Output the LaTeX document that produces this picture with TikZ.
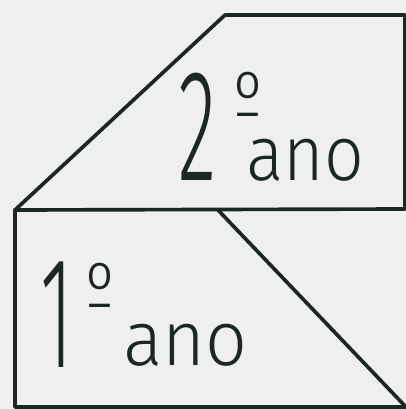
\documentclass[tikz,border=0pt]{standalone}
\usepackage{fontspec}
\usepackage{graphicx}
\newfontfamily\handfont{Fira Sans Light}
\usetikzlibrary{positioning}
\definecolor{paper}{HTML}{EFEFED}
\definecolor{ink}{HTML}{1C2622}
\newcommand{\narrow}[2]{\scalebox{#1}[1]{#2}}

\tikzset{
  edge/.style={ink,line width=2.6pt,line join=round,line cap=round},
  bigdigit/.style={ink,inner sep=0pt,anchor=base west,font=\handfont\fontsize{113}{113}\selectfont},
  ordmark/.style={ink,inner sep=0pt,font=\handfont\fontsize{46}{46}\selectfont},
  word/.style={ink,inner sep=0pt,anchor=base west,font=\handfont\fontsize{55}{55}\selectfont}
}

\begin{document}
\begin{tikzpicture}[x=0.025cm,y=-0.025cm]
  \fill[paper] (0,0) rectangle (406,409);
  \useasboundingbox (0,0) rectangle (406,409);
  % corner points
  \coordinate (bl) at (15,210);
  \coordinate (tl) at (225,15);
  \coordinate (tr) at (405,15);
  \coordinate (br) at (405,209);
  \coordinate (fold) at (218,210);
  \coordinate (low) at (15,407);
  \coordinate (lowr) at (406,407);
  % top piece
  \draw[edge] (bl) -- (tl) -- (tr) -- (br) -- cycle;
  % bottom piece
  \draw[edge] (bl) -- (low) -- (lowr);
  \draw[edge] (fold) -- (lowr);
  % labels
  \node[bigdigit] (two) at (178,180) {\narrow{0.5}{2}};
  \node[ordmark] (twoord) at (248,94) {\narrow{0.9}{º}};
  \node[word] (twoano) at (246,180) {\narrow{0.9}{ano}};
  \node[bigdigit] (one) at (40,367) {\narrow{0.5}{1}};
  \node[ordmark] (oneord) at (100,285) {\narrow{0.9}{º}};
  \node[word] (oneano) at (123,365) {\narrow{0.95}{ano}};
\end{tikzpicture}
\end{document}
